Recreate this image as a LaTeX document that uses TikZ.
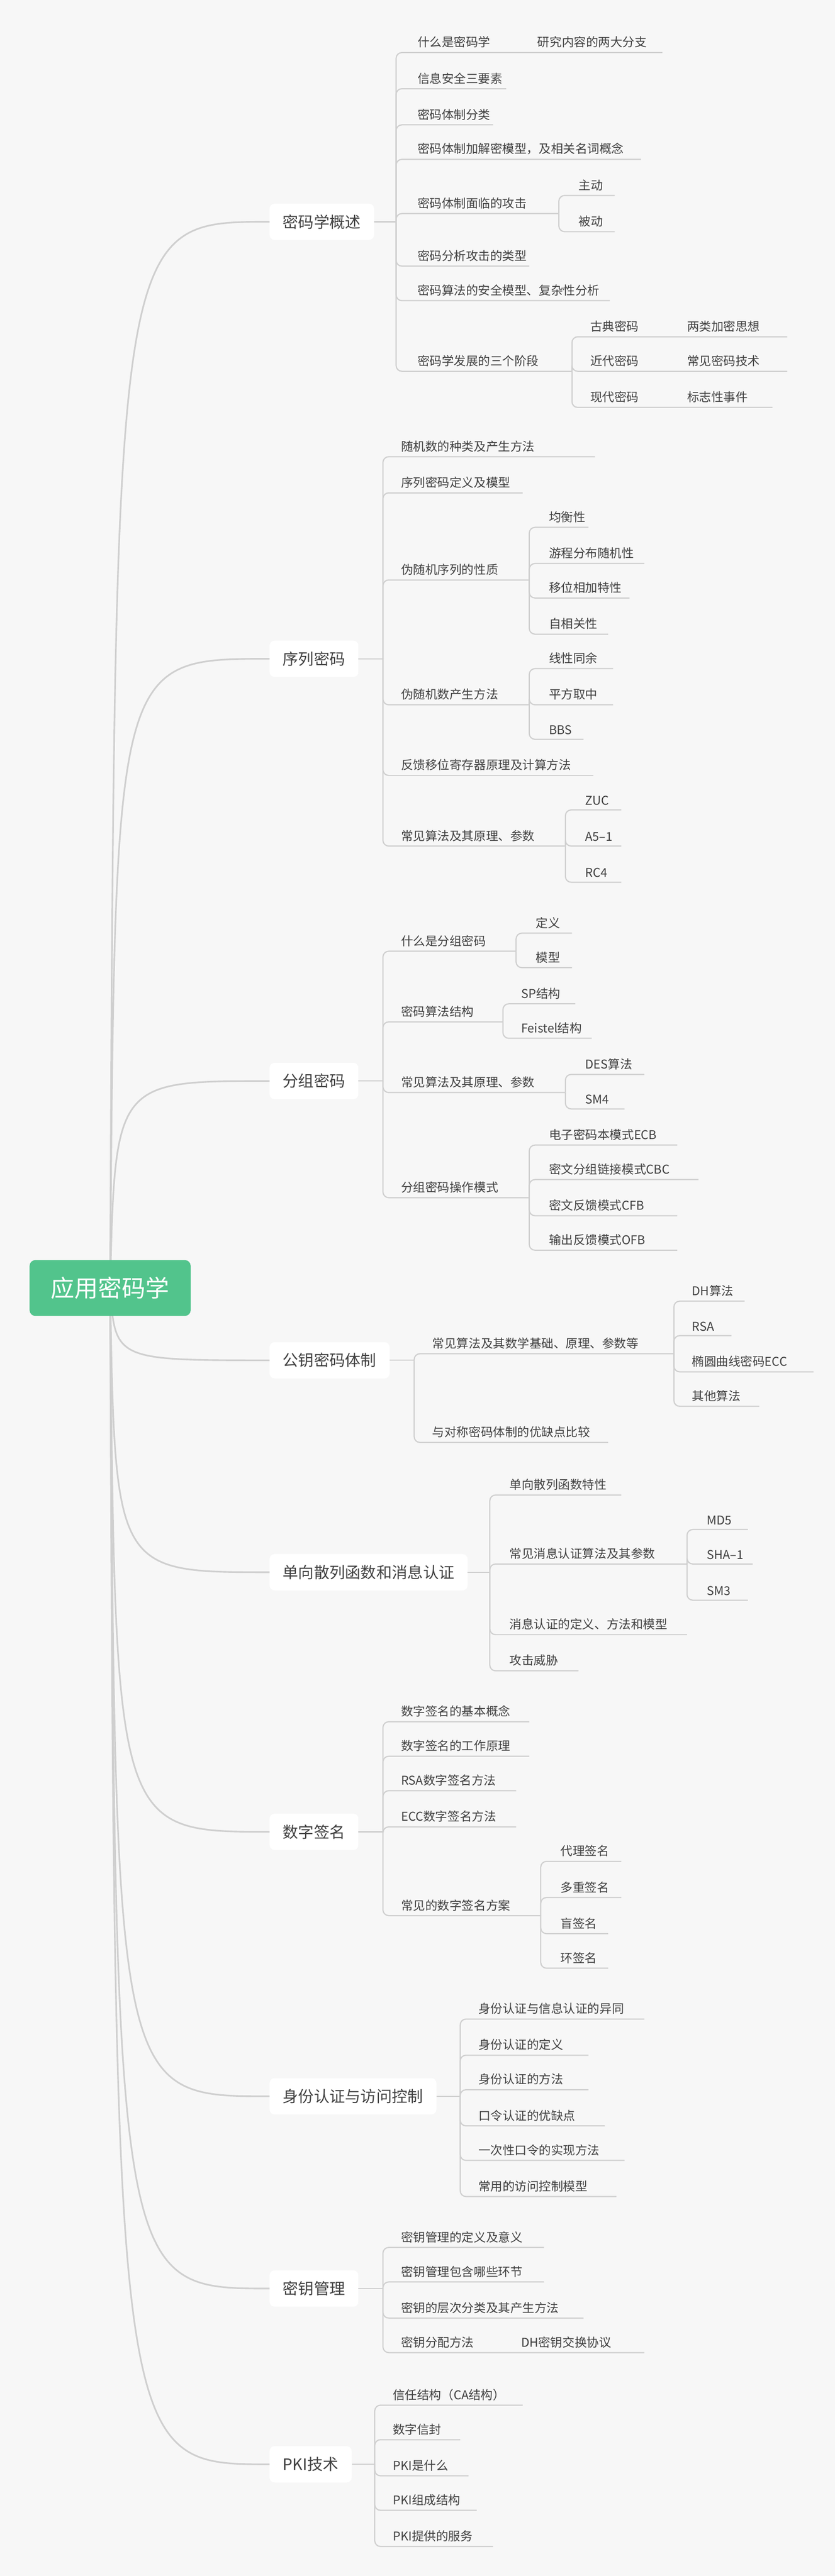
\documentclass[tikz,border=0pt]{standalone}
\usepackage{fontspec}
\setmainfont{Noto Sans CJK SC}
\begin{document}
\begin{tikzpicture}[x=0.1cm,y=-0.1cm,
  br/.style={draw=black!19,line width=2pt,rounded corners=0.35cm},
  mc/.style={draw=black!19,line width=2.8pt},
  lf/.style={anchor=south west,inner sep=0pt,yshift=0.28cm,text=black!75,font=\fontsize{21}{25}\selectfont},
  mb/.style={anchor=west,fill=white,rounded corners=0.3cm,minimum height=2.2cm,inner xsep=0.8cm,text=black!75,font=\fontsize{27}{32}\selectfont},
  rootbox/.style={fill=rootgreen,rounded corners=0.35cm,minimum width=9.8cm,minimum height=3.4cm,text=white,font=\fontsize{41}{48}\selectfont}]
\definecolor{rootgreen}{HTML}{52C48C}
\newcommand\kid[7]{\draw[br] (#1,#2) -- (#1,#4) -- (#5,#4); \node[lf] (#6) at (#3,#4) {#7};}
\fill[black!3] (0,0) rectangle (508,1568);
\useasboundingbox (0,0) rectangle (508,1568);
% main boxes
\node[mb] (b1) at (164,135) {密码学概述};
\node[mb] (b2) at (164,401) {序列密码};
\node[mb] (b3) at (164,658) {分组密码};
\node[mb] (b4) at (164,828) {公钥密码体制};
\node[mb] (b5) at (164,957) {单向散列函数和消息认证};
\node[mb] (b6) at (164,1115) {数字签名};
\node[mb] (b7) at (164,1276) {身份认证与访问控制};
\node[mb] (b8) at (164,1393) {密钥管理};
\node[mb] (b9) at (164,1500) {PKI技术};
\coordinate (rc) at (67,784);
\foreach \b/\y in {b1/135,b2/401,b3/658,b4/828,b5/957,b6/1115,b7/1276,b8/1393,b9/1500}
  \draw[mc] (rc) .. controls (70,\y) .. (\b.west);
\node[rootbox] (root) at (rc) {应用密码学};
% redraw boxes over curves
\node[mb] at (164,135) {密码学概述};
\node[mb] at (164,401) {序列密码};
\node[mb] at (164,658) {分组密码};
\node[mb] at (164,828) {公钥密码体制};
\node[mb] at (164,957) {单向散列函数和消息认证};
\node[mb] at (164,1115) {数字签名};
\node[mb] at (164,1276) {身份认证与访问控制};
\node[mb] at (164,1393) {密钥管理};
\node[mb] at (164,1500) {PKI技术};
% ---- branch 1
\draw[br] (b1.east) -- (241,135);
\kid{241}{135}{254}{32}{403}{a1}{什么是密码学}
\node[lf] (a1a) at (327,32) {研究内容的两大分支};
\kid{241}{135}{254}{54}{308}{a2}{信息安全三要素}
\kid{241}{135}{254}{76}{300}{a3}{密码体制分类}
\kid{241}{135}{254}{97}{390}{a4}{密码体制加解密模型，及相关名词概念}
\kid{241}{135}{254}{130}{340}{a5}{密码体制面临的攻击}
\kid{340}{130}{352}{119}{374}{a5a}{主动}
\kid{340}{130}{352}{141}{374}{a5b}{被动}
\kid{241}{135}{254}{162}{322}{a6}{密码分析攻击的类型}
\kid{241}{135}{254}{183}{371}{a7}{密码算法的安全模型、复杂性分析}
\kid{241}{135}{254}{226}{348}{a8}{密码学发展的三个阶段}
\kid{348}{226}{359}{205}{479}{a8a}{古典密码}
\node[lf] (a8a1) at (418,205) {两类加密思想};
\kid{348}{226}{359}{226}{479}{a8b}{近代密码}
\node[lf] (a8b1) at (418,226) {常见密码技术};
\kid{348}{226}{359}{248}{470}{a8c}{现代密码}
\node[lf] (a8c1) at (418,248) {标志性事件};
% ---- branch 2
\draw[br] (b2.east) -- (233,401);
\kid{233}{401}{244}{278}{362}{c1}{随机数的种类及产生方法}
\kid{233}{401}{244}{300}{318}{c2}{序列密码定义及模型}
\kid{233}{401}{244}{353}{322}{c3}{伪随机序列的性质}
\kid{322}{353}{334}{321}{358}{c3a}{均衡性}
\kid{322}{353}{334}{343}{392}{c3b}{游程分布随机性}
\kid{322}{353}{334}{364}{383}{c3c}{移位相加特性}
\kid{322}{353}{334}{386}{370}{c3d}{自相关性}
\kid{233}{401}{244}{429}{322}{c4}{伪随机数产生方法}
\kid{322}{429}{334}{407}{373}{c4a}{线性同余}
\kid{322}{429}{334}{429}{373}{c4b}{平方取中}
\kid{322}{429}{334}{450}{355}{c4c}{BBS}
\kid{233}{401}{244}{472}{361}{c5}{反馈移位寄存器原理及计算方法}
\kid{233}{401}{244}{515}{344}{c6}{常见算法及其原理、参数}
\kid{344}{515}{356}{493}{378}{c6a}{ZUC}
\kid{344}{515}{356}{515}{378}{c6b}{A5–1}
\kid{344}{515}{356}{537}{378}{c6c}{RC4}
% ---- branch 3
\draw[br] (b3.east) -- (233,658);
\kid{233}{658}{244}{579}{314}{d1}{什么是分组密码}
\kid{314}{579}{326}{568}{348}{d1a}{定义}
\kid{314}{579}{326}{589}{348}{d1b}{模型}
\kid{233}{658}{244}{622}{306}{d2}{密码算法结构}
\kid{306}{622}{317}{611}{350}{d2a}{SP结构}
\kid{306}{622}{317}{632}{360}{d2b}{Feistel结构}
\kid{233}{658}{244}{665}{344}{d3}{常见算法及其原理、参数}
\kid{344}{665}{356}{654}{392}{d3a}{DES算法}
\kid{344}{665}{356}{675}{380}{d3b}{SM4}
\kid{233}{658}{244}{729}{322}{d4}{分组密码操作模式}
\kid{322}{729}{334}{697}{412}{d4a}{电子密码本模式ECB}
\kid{322}{729}{334}{718}{425}{d4b}{密文分组链接模式CBC}
\kid{322}{729}{334}{740}{412}{d4c}{密文反馈模式CFB}
\kid{322}{729}{334}{761}{412}{d4d}{输出反馈模式OFB}
% ---- branch 4
\draw[br] (b4.east) -- (252,828);
\kid{252}{828}{263}{824}{410}{e1}{常见算法及其数学基础、原理、参数等}
\kid{410}{824}{421}{792}{453}{e1a}{DH算法}
\kid{410}{824}{421}{813}{445}{e1b}{RSA}
\kid{410}{824}{421}{835}{495}{e1c}{椭圆曲线密码ECC}
\kid{410}{824}{421}{856}{462}{e1d}{其他算法}
\kid{252}{828}{263}{878}{370}{e2}{与对称密码体制的优缺点比较}
% ---- branch 5
\draw[br] (b5.east) -- (298,957);
\kid{298}{957}{310}{910}{378}{f1}{单向散列函数特性}
\kid{298}{957}{310}{952}{418}{f2}{常见消息认证算法及其参数}
\kid{418}{952}{430}{931}{455}{f2a}{MD5}
\kid{418}{952}{430}{952}{458}{f2b}{SHA–1}
\kid{418}{952}{430}{974}{455}{f2c}{SM3}
\kid{298}{957}{310}{995}{418}{f3}{消息认证的定义、方法和模型}
\kid{298}{957}{310}{1017}{352}{f4}{攻击威胁}
% ---- branch 6
\draw[br] (b6.east) -- (233,1115);
\kid{233}{1115}{244}{1048}{322}{g1}{数字签名的基本概念}
\kid{233}{1115}{244}{1069}{322}{g2}{数字签名的工作原理}
\kid{233}{1115}{244}{1090}{314}{g3}{RSA数字签名方法}
\kid{233}{1115}{244}{1112}{314}{g4}{ECC数字签名方法}
\kid{233}{1115}{244}{1166}{329}{g5}{常见的数字签名方案}
\kid{329}{1166}{341}{1133}{378}{g5a}{代理签名}
\kid{329}{1166}{341}{1155}{378}{g5b}{多重签名}
\kid{329}{1166}{341}{1177}{370}{g5c}{盲签名}
\kid{329}{1166}{341}{1198}{370}{g5d}{环签名}
% ---- branch 7
\draw[br] (b7.east) -- (280,1276);
\kid{280}{1276}{291}{1229}{392}{h1}{身份认证与信息认证的异同}
\kid{280}{1276}{291}{1251}{358}{h2}{身份认证的定义}
\kid{280}{1276}{291}{1272}{358}{h3}{身份认证的方法}
\kid{280}{1276}{291}{1294}{368}{h4}{口令认证的优缺点}
\kid{280}{1276}{291}{1315}{380}{h5}{一次性口令的实现方法}
\kid{280}{1276}{291}{1337}{375}{h6}{常用的访问控制模型}
% ---- branch 8
\draw[br] (b8.east) -- (233,1393);
\kid{233}{1393}{244}{1368}{331}{i1}{密钥管理的定义及意义}
\kid{233}{1393}{244}{1389}{331}{i2}{密钥管理包含哪些环节}
\kid{233}{1393}{244}{1411}{355}{i3}{密钥的层次分类及其产生方法}
\kid{233}{1393}{244}{1432}{392}{i4}{密钥分配方法}
\node[lf] (i4a) at (317,1432) {DH密钥交换协议};
% ---- branch 9
\draw[br] (b9.east) -- (228,1500);
\kid{228}{1500}{239}{1464}{318}{j1}{信任结构（CA结构）}
\kid{228}{1500}{239}{1485}{280}{j2}{数字信封}
\kid{228}{1500}{239}{1507}{285}{j3}{PKI是什么}
\kid{228}{1500}{239}{1528}{290}{j4}{PKI组成结构}
\kid{228}{1500}{239}{1550}{300}{j5}{PKI提供的服务}
\end{tikzpicture}
\end{document}
